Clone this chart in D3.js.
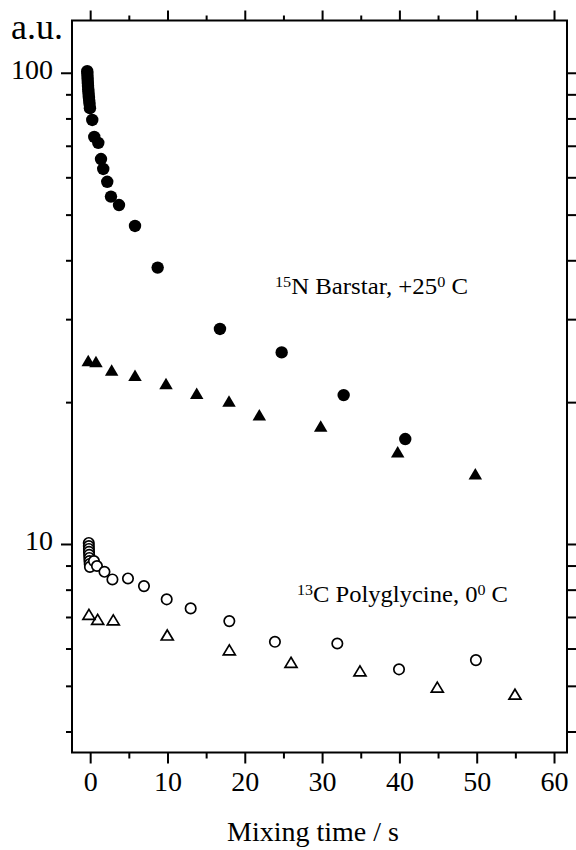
<!DOCTYPE html>
<html>
<head>
<meta charset="utf-8">
<script src="https://cdn.jsdelivr.net/npm/d3@7"></script>
<style>
  html, body { margin: 0; padding: 0; background: #fff; }
  svg { display: block; }
</style>
</head>
<body>
<svg id="chart" width="576" height="850"></svg>
<script>
// ---------- data ----------
// 15N Barstar, +25 C : filled circles
const barstarCircleTime   = [-0.38,-0.36,-0.34,-0.32,-0.3,-0.28,-0.25,-0.22,-0.19,-0.16,-0.12,-0.08,-0.03,0.27,0.53,1.05,1.40,1.69,2.21,2.69,3.73,5.80,8.73,16.79,24.77,32.79,40.76];
const barstarCircleSignal = [100.8,99.4,97.9,96.5,95.1,93.7,92.3,91.0,89.7,88.4,87.1,85.8,84.1,79.4,73.1,71.0,65.6,62.5,58.7,54.6,52.4,47.3,38.6,28.6,25.5,20.7,16.7];
// 15N Barstar, +25 C : filled triangles
const barstarTriTime   = [-0.25,0.75,2.78,5.80,9.81,13.78,17.96,21.88,29.82,39.78,49.82];
const barstarTriSignal = [24.5,24.4,23.4,22.8,21.9,20.9,20.1,18.8,17.8,15.7,14.1];
// 13C Polyglycine, 0 C : open circles
const polyCircleTime   = [-0.18,-0.17,-0.16,-0.15,-0.13,-0.11,-0.09,-0.06,-0.03,0.49,0.88,1.85,2.88,4.89,6.96,9.90,13.0,18.0,23.9,31.97,39.95,49.9];
const polyCircleSignal = [10.05,9.90,9.76,9.62,9.48,9.34,9.20,9.07,8.94,9.20,8.98,8.73,8.41,8.45,8.14,7.63,7.30,6.86,6.20,6.15,5.42,5.67];
// 13C Polyglycine, 0 C : open triangles
const polyTriTime   = [-0.16,0.97,2.99,9.97,18.0,25.98,34.9,44.9,54.95];
const polyTriSignal = [7.09,6.92,6.90,6.41,5.96,5.61,5.38,4.97,4.80];

// ticks
const xMajorTicks = [0,10,20,30,40,50,60];
const xMinorTicks = [5,15,25,35,45,55];
const yMajorTicks = [10,100];
const yMinorTicks = [4,5,6,7,8,9,20,30,40,50,60,70,80,90];

// ---------- layout ----------
const svg = d3.select("#chart");
const L = 72, R = 567, T = 20.5, B = 752.5;
const FONT = "'Liberation Serif','Times New Roman',Times,serif";

const x = d3.scaleLinear().domain([-2.35, 61.68]).range([L, R]);
const y = d3.scaleLog().domain([3.61, 129.1]).range([B, T]);

function styleAxis(g, fs) {
  g.attr("font-family", FONT).attr("font-size", fs);
  g.select(".domain").remove();
  g.selectAll(".tick line").attr("stroke", "#000").attr("stroke-width", 2);
  g.selectAll(".tick text").attr("fill", "#000");
}

// bottom axis
svg.append("g").attr("transform", `translate(0,${B})`)
  .call(d3.axisBottom(x).tickValues(xMajorTicks).tickSize(11).tickPadding(8).tickFormat(d3.format("d")))
  .call(g => styleAxis(g, 28));
svg.append("g").attr("transform", `translate(0,${B})`)
  .call(d3.axisBottom(x).tickValues(xMinorTicks).tickSize(6).tickFormat(""))
  .call(g => styleAxis(g, 28));
// top axis
svg.append("g").attr("transform", `translate(0,${T})`)
  .call(d3.axisTop(x).tickValues(xMajorTicks).tickSize(10).tickFormat(""))
  .call(g => styleAxis(g, 28));
svg.append("g").attr("transform", `translate(0,${T})`)
  .call(d3.axisTop(x).tickValues(xMinorTicks).tickSize(5).tickFormat(""))
  .call(g => styleAxis(g, 28));
// left axis
svg.append("g").attr("transform", `translate(${L},0)`)
  .call(d3.axisLeft(y).tickValues(yMajorTicks).tickSize(11).tickPadding(8).tickFormat(d3.format("d")))
  .call(g => { styleAxis(g, 28); g.selectAll(".tick text").attr("dy", "0.2em"); });
svg.append("g").attr("transform", `translate(${L},0)`)
  .call(d3.axisLeft(y).tickValues(yMinorTicks).tickSize(6).tickFormat(""))
  .call(g => styleAxis(g, 28));
// right axis
svg.append("g").attr("transform", `translate(${R},0)`)
  .call(d3.axisRight(y).tickValues(yMajorTicks.concat(yMinorTicks)).tickSize(10).tickFormat(""))
  .call(g => styleAxis(g, 28));

// frame
svg.append("rect").attr("x", L).attr("y", T).attr("width", R - L).attr("height", B - T)
  .attr("fill", "none").attr("stroke", "#000").attr("stroke-width", 2);

// ---------- marks ----------
const triPath = (w, h) => `M0,${-h/2}L${w/2},${h/2}L${-w/2},${h/2}Z`;
const marks = svg.append("g");

marks.append("g").selectAll("circle")
  .data(d3.zip(barstarCircleTime, barstarCircleSignal)).join("circle")
  .attr("cx", d => x(d[0])).attr("cy", d => y(d[1])).attr("r", 6.2).attr("fill", "#000");

marks.append("g").selectAll("path")
  .data(d3.zip(barstarTriTime, barstarTriSignal)).join("path")
  .attr("transform", d => `translate(${x(d[0])},${y(d[1])})`)
  .attr("d", triPath(13.5, 11.5)).attr("fill", "#000");

marks.append("g").selectAll("circle")
  .data(d3.zip(polyCircleTime, polyCircleSignal)).join("circle")
  .attr("cx", d => x(d[0])).attr("cy", d => y(d[1])).attr("r", 5.2)
  .attr("fill", "#fff").attr("stroke", "#000").attr("stroke-width", 1.7);

marks.append("g").selectAll("path")
  .data(d3.zip(polyTriTime, polyTriSignal)).join("path")
  .attr("transform", d => `translate(${x(d[0])},${y(d[1])})`)
  .attr("d", triPath(12, 10)).attr("fill", "none")
  .attr("stroke", "#000").attr("stroke-width", 1.7).attr("stroke-linejoin", "miter");

// ---------- texts ----------
svg.append("text").attr("x", 11).attr("y", 39).attr("font-family", FONT).attr("font-size", 36)
  .text("a.u.");

svg.append("text").attr("x", 313).attr("y", 841).attr("text-anchor", "middle")
  .attr("font-family", FONT).attr("font-size", 28).text("Mixing time / s");

function annotate(xp, yp, len, parts) {
  const t = svg.append("text").attr("x", xp).attr("y", yp)
    .attr("font-family", FONT).attr("font-size", 23)
    .attr("textLength", len).attr("lengthAdjust", "spacingAndGlyphs");
  let raised = false;
  parts.forEach(p => {
    const ts = t.append("tspan").text(p.s);
    if (p.sup) { ts.attr("font-size", 15).attr("dy", raised ? 0 : -7); raised = true; }
    else { if (raised) ts.attr("dy", 7); raised = false; }
  });
}
annotate(275, 294, 193, [{s:"15",sup:true},{s:"N Barstar, +25"},{s:"0",sup:true},{s:" C"}]);
annotate(297, 602, 211, [{s:"13",sup:true},{s:"C Polyglycine, 0"},{s:"0",sup:true},{s:" C"}]);
</script>
</body>
</html>
